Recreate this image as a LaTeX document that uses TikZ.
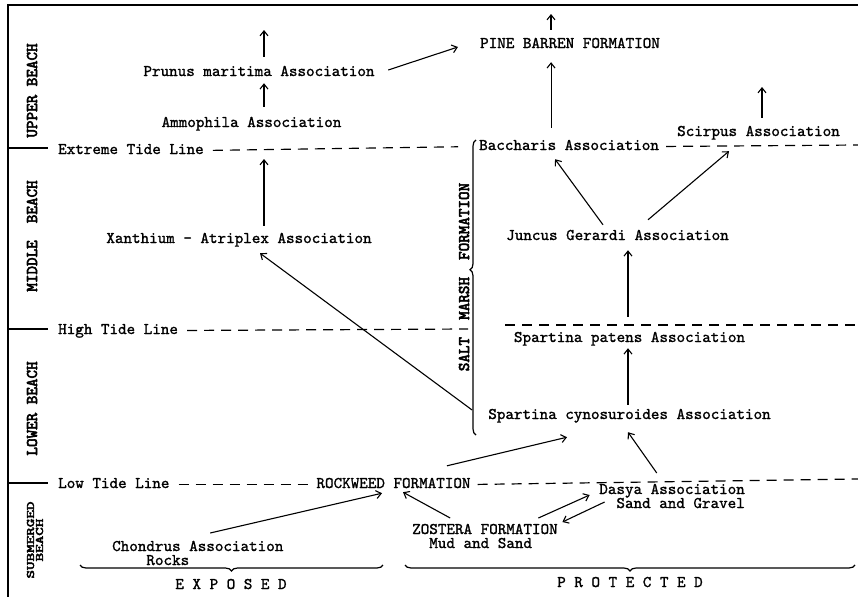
\documentclass[tikz,border=0pt]{standalone}
\usepackage{graphicx}
\usetikzlibrary{arrows.meta,decorations.pathreplacing}

\font\diagtt="[lmmono10-regular]:embolden=1.3" at 16.3pt
\font\zonett="[lmmono10-regular]:embolden=3.5" at 16.3pt
\newcommand\diagfont{\diagtt\baselineskip=14pt\lineskiplimit=-20pt}
\newcommand\zonefont{\zonett\baselineskip=9pt\lineskiplimit=-20pt}

\begin{document}
\begin{tikzpicture}[
    x=1pt, y=-1pt,
    font=\diagfont,
    assoc/.style={inner sep=1pt, text height=10pt, text depth=3pt, anchor=base},
    pair/.style={inner sep=1pt},
    zone/.style={font=\zonefont, rotate=90, anchor=base, inner sep=1pt},
    frame/.style={line width=1.6pt},
    tide/.style={line width=1.2pt, dash pattern=on 10pt off 7pt},
    brc/.style={line width=1.2pt, decorate, decoration={brace, amplitude=6pt}},
    >={Straight Barb[length=5pt, width=8pt]},
    arr/.style={->, line width=1.1pt}]

    \useasboundingbox (0,0) rectangle (858,597);

    % frame and zones
    \coordinate (tl) at (8,5);
    \coordinate (tr) at (858,5);
    \coordinate (bl) at (8,597);
    \draw[frame] (tr) -- (tl) -- (bl);
    \foreach \y in {148,329,483}
        \draw[frame] (8,\y) -- (48,\y);

    \node[zone] (upper) at (37,90.5) {UPPER BEACH};
    \node[zone] (middle) at (37,236) {MIDDLE\ \ BEACH};
    \node[zone] (lower) at (37,408.5) {LOWER BEACH};
    \node[zone, anchor=center, align=center] (submerged) at (35,540)
        {\scalebox{1}[0.7]{SUBMERGED}\\\scalebox{1}[0.7]{BEACH}};
    \node[zone] (saltmarsh) at (469,277) {SALT\ \ MARSH\ \ FORMATION};

    % associations and formations
    \node[assoc] (pine) at (570,48) {PINE BARREN FORMATION};
    \node[assoc] (prunus) at (259,76) {Prunus maritima Association};
    \node[assoc] (ammo) at (251.5,127) {Ammophila Association};
    \node[assoc, anchor=base west] (extreme) at (57,154) {Extreme Tide Line};
    \node[assoc, anchor=base west] (baccharis) at (478,150) {Baccharis Association};
    \node[assoc] (scirpus) at (758.5,136) {Scirpus Association};
    \node[assoc] (xanth) at (239,243) {Xanthium — Atriplex Association};
    \node[assoc] (juncus) at (617.5,240) {Juncus Gerardi Association};
    \node[assoc, anchor=base west] (high) at (57,334) {High Tide Line};
    \node[assoc] (patens) at (629.5,342) {Spartina patens Association};
    \node[assoc] (cyno) at (629.5,419) {Spartina cynosuroides Association};
    \node[assoc, anchor=base west] (low) at (57,488) {Low Tide Line};
    \node[assoc] (rockweed) at (393.5,488) {ROCKWEED FORMATION};
    \node[pair, align=right, anchor=base east] (dasya) at (746,508) {Dasya Association\\Sand and Gravel};
    \node[pair, align=left, anchor=base west] (zostera) at (411,548) {ZOSTERA FORMATION\\\phantom{ZO}Mud and Sand};
    \node[pair, align=left, anchor=base west] (chondrus) at (111,565) {Chondrus Association\\\phantom{Chon}Rocks};
    \node[assoc] (exposed) at (231,589) {E X P O S E D};
    \node[assoc] (protected) at (630,587) {P R O T E C T E D};

    % tide lines
    \coordinate (extremeend) at (858,145);
    \coordinate (highmid) at (468,329);
    \coordinate (highright) at (505,325);
    \coordinate (highend) at (858,325);
    \coordinate (lowend) at (858,479);
    \draw[tide, shorten <=8pt, shorten >=20pt] (extreme.east) -- (baccharis.west);
    \draw[tide, shorten <=6pt] (baccharis.east) -- (extremeend);
    \draw[tide, shorten <=8pt] (high.east) -- (highmid);
    \draw[tide] (highright) -- (highend);
    \draw[tide, shorten <=8pt, shorten >=6pt] (low.east) -- (rockweed.west);
    \draw[tide, shorten <=6pt] (rockweed.east) -- (lowend);

    % braces
    \draw[brc] (383,565) -- (80,565);
    \draw[brc] (855,565) -- (405,565);
    \draw[brc, decoration={aspect=0.56}] (476,435) -- (476,140);

    % succession
    \coordinate (pinetop) at (551,14);
    \coordinate (prunustop) at (264,30);
    \coordinate (xanthtop) at (264,159);
    \coordinate (scirpustop) at (762,87);
    \coordinate (bacctail) at ([shift={(-18,-11)}]baccharis.north);
    \draw[arr] ([shift={(-19,-7)}]pine.north) -- (pinetop);
    \draw[arr] (bacctail) -- ([yshift=-10pt]pine.south -| bacctail);
    \draw[arr] ([shift={(5,-8)}]prunus.north) -- (prunustop);
    \draw[arr] ([shift={(12.5,-9)}]ammo.north) -- ([shift={(5,3)}]prunus.south);
    \draw[arr] ([shift={(12.5,-2.5)}]prunus.east) -- ([shift={(-21,2.5)}]pine.west);
    \draw[arr] ([shift={(25,-6)}]xanth.north) -- (xanthtop);
    \draw[arr] ([shift={(-15,-5.5)}]cyno.west) -- ([shift={(21,6)}]xanth.south);
    \draw[arr] ([shift={(-14.5,-4)}]juncus.north) -- ([shift={(-14,5)}]baccharis.south);
    \draw[arr] ([shift={(30.5,-9)}]juncus.north) -- ([shift={(-29.5,11)}]scirpus.south);
    \draw[arr] ([shift={(3.5,-7)}]scirpus.north) -- (scirpustop);
    \draw[arr] ([shift={(-1.5,-14)}]patens.north) -- ([shift={(10.5,6)}]juncus.south);
    \draw[arr] ([shift={(-1.5,-3)}]cyno.north) -- ([shift={(-1.5,2)}]patens.south);
    \draw[arr] ([shift={(53.5,-11)}]rockweed.north) -- ([shift={(-62.5,14)}]cyno.south);
    \draw[arr] ([shift={(-15.3,-35)}]dasya.base) -- ([shift={(-1.5,9)}]cyno.south);
    \draw[arr] ([shift={(-20.5,-30)}]zostera.base east) -- ([shift={(-8.5,-13)}]dasya.base west);
    \draw[arr] ([shift={(6.5,-6)}]dasya.base west) -- ([shift={(3.5,-26)}]zostera.base east);
    \draw[arr] ([shift={(-34.75,-30)}]zostera.base) -- ([shift={(9.5,0)}]rockweed.south);
    \draw[arr] ([shift={(12.4,-32)}]chondrus.base) -- ([shift={(-11.5,1)}]rockweed.south);
\end{tikzpicture}
\end{document}
